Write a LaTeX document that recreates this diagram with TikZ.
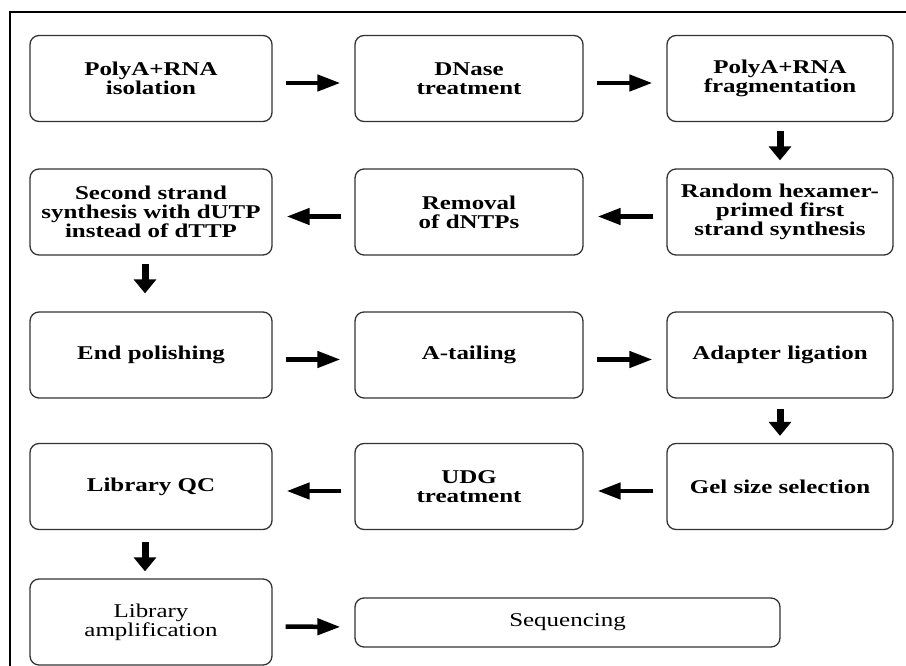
\documentclass[tikz,border=0pt]{standalone}
\usepackage{fontspec}
\setmainfont{Liberation Serif}
\newfontfamily\boxfont[FakeStretch=1.28]{Liberation Serif}
\usetikzlibrary{arrows.meta}
\begin{document}
\begin{tikzpicture}[x=1pt,y=-1pt,
  box/.style={draw=black!80, line width=1.3pt, rounded corners=9pt, align=center,
    inner sep=0pt, font=\boxfont\bfseries\fontsize{19.5}{19}\selectfont},
  plainbox/.style={box, font=\boxfont\fontsize{19.5}{19}\selectfont},
  wA/.style={minimum width=242pt}, wB/.style={minimum width=228pt}, wC/.style={minimum width=226pt},
  hR/.style={minimum height=86pt},
  harr/.style={line width=4.5pt, -{Triangle[length=23pt,width=16pt]}, shorten <=13pt, shorten >=14pt},
  varr/.style={line width=7pt, -{Triangle[length=14pt,width=22pt]}, shorten <=9pt, shorten >=8pt},
  frame/.style={line width=1.3pt, draw=black}]
\useasboundingbox (0,0) rectangle (906,666);
\draw[frame] (10,670) -- (10,12) -- (910,12);
% row 1
\node[box,wA,hR] (n1) at (151,78.5) {PolyA+RNA\\isolation};
\node[box,wB,hR] (n2) at (469,78.5) {DNase\\treatment};
\node[box,wC,hR] (n3) at (780,78.5) {PolyA+RNA\\fragmentation};
% row 2
\node[box,wC,hR] (n4) at (780,212) {Random hexamer-\\primed first\\strand synthesis};
\node[box,wB,hR] (n5) at (469,212) {Removal\\of dNTPs};
\node[box,wA,hR] (n6) at (151,212) {Second strand\\synthesis with dUTP\\instead of dTTP};
% row 3
\node[box,wA,hR] (n7) at (151,355) {End polishing};
\node[box,wB,hR] (n8) at (469,355) {A-tailing};
\node[box,wC,hR] (n9) at (780,355) {Adapter ligation};
% row 4
\node[box,wC,hR] (n10) at (780,486.5) {Gel size selection};
\node[box,wB,hR] (n11) at (469,486.5) {UDG\\treatment};
\node[box,wA,hR] (n12) at (151,486.5) {Library QC};
% row 5
\node[plainbox,wA,hR] (n13) at (151,622) {Library\\amplification};
\node[plainbox,minimum width=425pt,minimum height=49pt] (n14) at (567.5,622.5) {Sequencing};
% arrows
\draw[harr] ([yshift=-4.5pt]n1.east) -- ([yshift=-4.5pt]n2.west);
\draw[harr] ([yshift=-4.5pt]n2.east) -- ([yshift=-4.5pt]n3.west);
\draw[varr] (n3.south) -- (n4.north);
\draw[harr] ([yshift=-4.5pt]n4.west) -- ([yshift=-4.5pt]n5.east);
\draw[harr] ([yshift=-4.5pt]n5.west) -- ([yshift=-4.5pt]n6.east);
\draw[varr, shorten <=8pt, shorten >=18pt] ([xshift=-6pt]n6.south) -- ([xshift=-6pt]n7.north);
\draw[harr] ([yshift=-4.5pt]n7.east) -- ([yshift=-4.5pt]n8.west);
\draw[harr] ([yshift=-4.5pt]n8.east) -- ([yshift=-4.5pt]n9.west);
\draw[varr, shorten <=10pt, shorten >=7pt] (n9.south) -- (n10.north);
\draw[harr] ([yshift=-4.5pt]n10.west) -- ([yshift=-4.5pt]n11.east);
\draw[harr] ([yshift=-4.5pt]n11.west) -- ([yshift=-4.5pt]n12.east);
\draw[varr, shorten <=12pt, shorten >=7pt] ([xshift=-6pt]n12.south) -- ([xshift=-6pt]n13.north);
\draw[harr] ([yshift=-4.5pt]n13.east) -- ([yshift=-4.5pt]n14.west);
\end{tikzpicture}
\end{document}
